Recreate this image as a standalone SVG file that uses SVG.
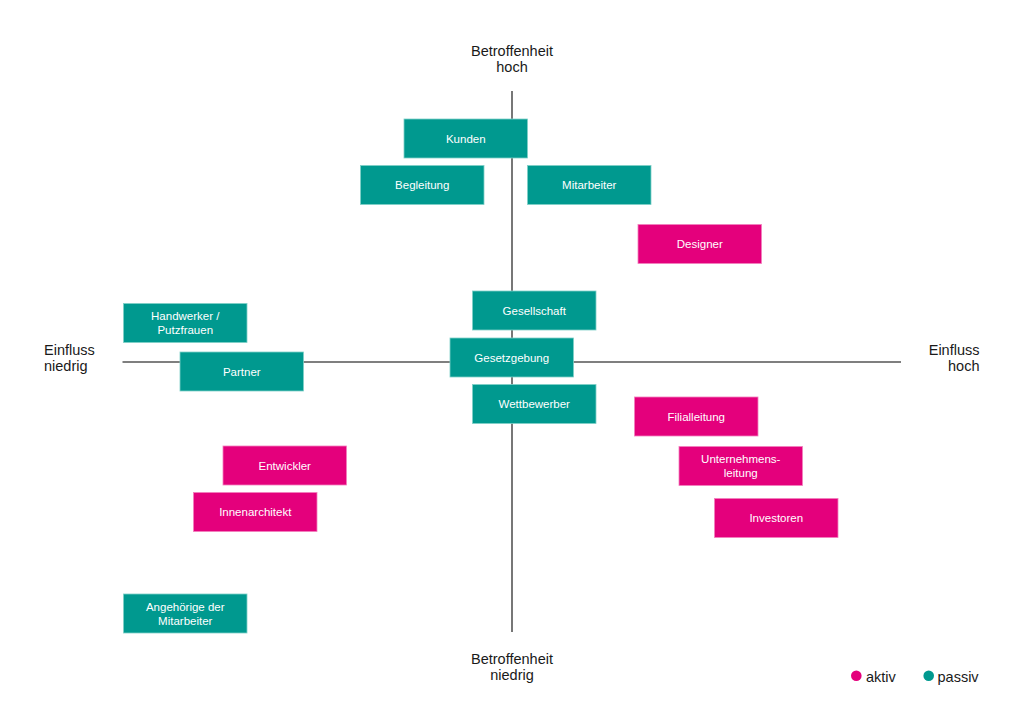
<svg xmlns="http://www.w3.org/2000/svg" width="1024" height="724" viewBox="0 0 1024 724">
<style>
text{font-family:"Liberation Sans",Arial,sans-serif}
.ax{font-size:14.5px;fill:#1a1a1a}
.bt{font-size:11.5px;fill:#ffffff;text-anchor:middle}
.p rect{fill:#00998F;stroke:#7fd0c8;stroke-width:0.8}
.a rect{fill:#E4007C;stroke:#f27fbd;stroke-width:0.8}
.axis{stroke:#555555;stroke-width:1.6;fill:none}
</style>
<rect width="1024" height="724" fill="#ffffff"/>
<g id="connectors">
<line class="axis" x1="122.5" y1="362" x2="901" y2="362"/>
<line class="axis" x1="512" y1="91" x2="512" y2="632"/>
</g>
<g id="axis-labels">
<text class="ax" x="512" y="55.5" text-anchor="middle">Betroffenheit</text>
<text class="ax" x="512" y="71.5" text-anchor="middle">hoch</text>
<text class="ax" x="512" y="663.5" text-anchor="middle">Betroffenheit</text>
<text class="ax" x="512" y="679.5" text-anchor="middle">niedrig</text>
<text class="ax" x="44" y="355">Einfluss</text>
<text class="ax" x="44" y="371">niedrig</text>
<text class="ax" x="979.5" y="355" text-anchor="end">Einfluss</text>
<text class="ax" x="979.5" y="371" text-anchor="end">hoch</text>
</g>
<g id="kunden" class="p"><rect x="404" y="119" width="123.5" height="39"/><text class="bt" x="465.75" y="142.8">Kunden</text></g>
<g id="begleitung" class="p"><rect x="360.5" y="165.5" width="123.5" height="39"/><text class="bt" x="422.25" y="189.3">Begleitung</text></g>
<g id="mitarbeiter" class="p"><rect x="527.5" y="165.5" width="123.5" height="39"/><text class="bt" x="589.25" y="189.3">Mitarbeiter</text></g>
<g id="designer" class="a"><rect x="638" y="224.5" width="123.5" height="39"/><text class="bt" x="699.75" y="248.3">Designer</text></g>
<g id="handwerker" class="p"><rect x="123.5" y="303.5" width="123.5" height="39"/><text class="bt" x="185.25" y="320.3">Handwerker /</text><text class="bt" x="185.25" y="334.3">Putzfrauen</text></g>
<g id="partner" class="p"><rect x="180" y="352" width="123.5" height="39"/><text class="bt" x="241.75" y="375.8">Partner</text></g>
<g id="gesellschaft" class="p"><rect x="472.5" y="291" width="123.5" height="39"/><text class="bt" x="534.25" y="314.8">Gesellschaft</text></g>
<g id="gesetzgebung" class="p"><rect x="450" y="338" width="123.5" height="39"/><text class="bt" x="511.75" y="361.8">Gesetzgebung</text></g>
<g id="wettbewerber" class="p"><rect x="472.5" y="384.5" width="123.5" height="39"/><text class="bt" x="534.25" y="408.3">Wettbewerber</text></g>
<g id="filialleitung" class="a"><rect x="634.5" y="397" width="123.5" height="39"/><text class="bt" x="696.25" y="420.8">Filialleitung</text></g>
<g id="unternehmensleitung" class="a"><rect x="679" y="446.5" width="123.5" height="39"/><text class="bt" x="740.75" y="463.3">Unternehmens-</text><text class="bt" x="740.75" y="477.3">leitung</text></g>
<g id="investoren" class="a"><rect x="714.5" y="498.5" width="123.5" height="39"/><text class="bt" x="776.25" y="522.3">Investoren</text></g>
<g id="entwickler" class="a"><rect x="223" y="446" width="123.5" height="39"/><text class="bt" x="284.75" y="469.8">Entwickler</text></g>
<g id="innenarchitekt" class="a"><rect x="193.5" y="492.5" width="123.5" height="39"/><text class="bt" x="255.25" y="516.3">Innenarchitekt</text></g>
<g id="angehoerige" class="p"><rect x="123.5" y="594" width="123.5" height="39"/><text class="bt" x="185.25" y="610.8">Angehörige der</text><text class="bt" x="185.25" y="624.8">Mitarbeiter</text></g>
<g id="legend">
<circle cx="856.3" cy="675.7" r="5.3" fill="#E4007C"/>
<text class="ax" x="866" y="681.5">aktiv</text>
<circle cx="928.7" cy="675.7" r="5.3" fill="#00998F"/>
<text class="ax" x="937.5" y="681.5">passiv</text>
</g>
</svg>
